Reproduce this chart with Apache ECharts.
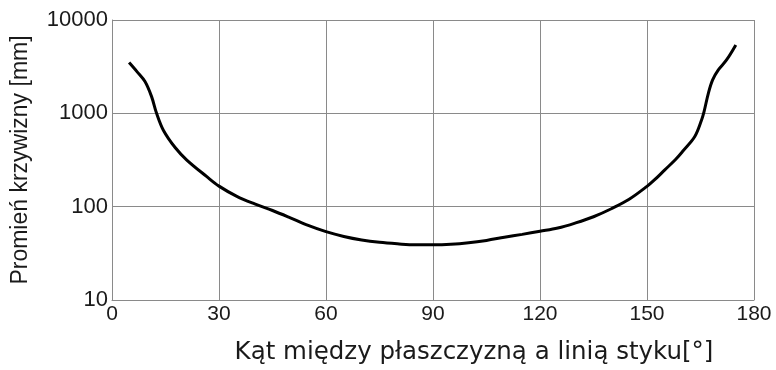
<!DOCTYPE html>
<html>
<head>
<meta charset="utf-8">
<script src="https://cdn.jsdelivr.net/npm/echarts@6/dist/echarts.min.js"></script>
<style>html,body{margin:0;padding:0;background:#fff}#c{width:776px;height:370px}</style>
</head>
<body>
<div id="c"></div>
<script>
const angles = [4.8, 7, 9.25, 11.1, 12.5, 14.4, 17.7, 20.9, 26.5, 30, 35, 40, 45, 50, 55, 60, 65, 70, 75, 80, 85, 90, 95, 100, 105, 110, 115, 120, 125, 130, 135, 140, 145, 150, 152, 155, 158, 160.2, 163.4, 165.3, 166, 167.2, 168.4, 170, 172.3, 174.9];
const radius = [3500, 2800, 2190, 1510, 1000, 660, 430, 318, 211, 166, 129, 107, 91, 76, 63, 54, 48, 44, 41.5, 40, 39, 39, 39.5, 41, 43.5, 47, 50.5, 54.5, 59, 67, 78, 95, 120, 165, 192, 248, 320, 400, 565, 850, 1045, 1640, 2280, 2920, 3730, 5400];
const xTicks = [0, 30, 60, 90, 120, 150, 180];
const yTicks = [10, 100, 1000, 10000];
const xName = 'Kąt między płaszczyzną a linią styku[°]';
const yName = 'Promień krzywizny [mm]';

const chart = echarts.init(document.getElementById('c'), null, {renderer: 'canvas'});
const font = 'Liberation Sans, Arial, sans-serif';
chart.setOption({
  animation: false,
  grid: {left: 112, right: 22, top: 20, bottom: 69, containLabel: false},
  xAxis: {
    type: 'value', min: xTicks[0], max: xTicks[xTicks.length - 1], interval: 30,
    name: xName, nameLocation: 'middle', nameGap: 40,
    nameTextStyle: {fontFamily: 'DejaVu Sans, sans-serif', fontSize: 24.5, color: '#1a1a1a', padding: [0, 0, 0, 82]},
    axisLine: {show: true, lineStyle: {color: '#8a8a8a', width: 1}},
    axisTick: {show: false},
    axisLabel: {fontFamily: font, fontSize: 21, color: '#1a1a1a', margin: 4},
    splitLine: {show: true, lineStyle: {color: '#8a8a8a', width: 1}}
  },
  yAxis: {
    type: 'log', logBase: 10, min: yTicks[0], max: yTicks[yTicks.length - 1],
    name: yName, nameLocation: 'middle', nameGap: 80, nameRotate: 90,
    nameTextStyle: {fontFamily: font, fontSize: 23, color: '#1a1a1a'},
    axisLine: {show: true, lineStyle: {color: '#8a8a8a', width: 1}},
    axisTick: {show: false},
    axisLabel: {fontFamily: font, fontSize: 22, color: '#1a1a1a', margin: 4,
      formatter: v => String(Math.round(v))},
    splitLine: {show: true, lineStyle: {color: '#8a8a8a', width: 1}},
    minorSplitLine: {show: false}
  },
  series: [{
    type: 'line',
    data: angles.map((a, i) => [a, radius[i]]),
    smooth: 0.35,
    showSymbol: false,
    lineStyle: {color: '#000', width: 3}
  }]
});
</script>
</body>
</html>
